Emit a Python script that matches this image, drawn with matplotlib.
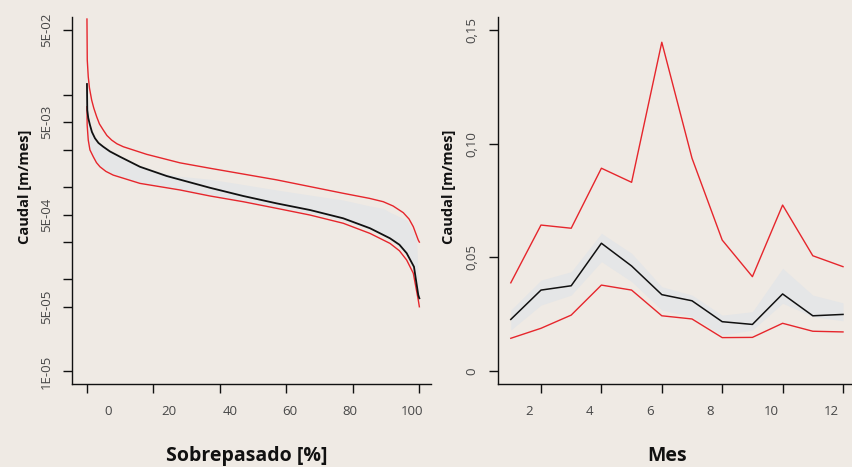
"""
Curva de duración de caudales (izq.) y caudal medio mensual (der.):
mediana simulada (negro), envolventes mín./máx. (rojo) y banda gris.
"""
import matplotlib
matplotlib.use("Agg")
import matplotlib.pyplot as plt
from matplotlib.ticker import NullLocator

BG = "#EFEAE4"
RED = "#E6262C"
BAND = "#E5E6E7"
TICK_TXT = "#474747"

plt.rcParams["font.family"] = ["Open Sans", "DejaVu Sans"]

# --- curva de duración (porcentaje sobrepasado vs caudal) ---
up_x = [0, 0.09, 0.39, 0.75, 1.41, 2.05, 2.92, 3.76, 4.90, 6.0, 7.43, 9.0, 10.92, 17.96, 27.98,
        37.0, 57.07, 77.1, 85.0, 89.14, 92.1, 95.16, 96.9, 98.17, 99.67, 100]
up_q = [0.0658, 0.0237, 0.0156, 0.0118, 0.00873, 0.00714, 0.00575, 0.0048, 0.00413, 0.0036,
        0.00321, 0.00293, 0.00272, 0.00225, 0.00182, 0.00159, 0.00119, 0.000851, 0.000750,
        0.000690, 0.000620, 0.000525, 0.000448, 0.000370, 0.000265, 0.000252]

med_x = [0, 0.09, 0.39, 0.90, 1.5, 2.41, 3.46, 4.90, 6.9, 9.93, 15.94, 23.98, 37.0, 47.0, 57.07,
         67.09, 77.1, 85.14, 91.16, 94.0, 96.18, 98.38, 99.67, 100]
med_q = [0.0130, 0.00679, 0.00557, 0.00468, 0.00393, 0.00336, 0.00299, 0.00272, 0.00242,
         0.00212, 0.00165, 0.00131, 0.000977, 0.000796, 0.000662, 0.000561, 0.000456,
         0.000356, 0.000277, 0.000236, 0.000191, 0.000136, 0.0000673, 0.000062]

lo_x = [0, 0.06, 0.39, 0.9, 1.90, 2.86, 3.91, 5.7, 7.91, 15.94, 27.98, 37.0, 47.0, 57.07, 67.09,
        77.1, 85.14, 91.16, 94.0, 96.18, 98.17, 99.67, 100]
lo_q = [0.00738, 0.00468, 0.00321, 0.00251, 0.00212, 0.00183, 0.00165, 0.00147, 0.00134,
        0.00109, 0.000925, 0.000796, 0.000690, 0.000585, 0.000495, 0.000403, 0.000313,
        0.000244, 0.000203, 0.000161, 0.000116, 0.0000594, 0.0000502]

band_x = [0, 0.39, 0.90, 1.90, 2.41, 3.91, 4.90, 7.91, 9.93, 15.94, 23.98, 27.98, 37.0, 47.0,
          57.07, 67.09, 77.1, 85.14, 89.14, 91.16, 96.18, 98.38, 99.19, 99.67, 100]
band_top = [0.0125, 0.0070, 0.0046, 0.0037, 0.0033, 0.0029, 0.0027, 0.0023, 0.0021, 0.00166,
            0.00138, 0.00130, 0.00121, 0.00106, 0.000925, 0.000815, 0.000720, 0.000620,
            0.000585, 0.000530, 0.000437, 0.000320, 0.000265, 0.0000978, 0.000070]
band_bot = [0.0070, 0.0033, 0.0026, 0.00218, 0.0020, 0.0017, 0.00160, 0.00138, 0.00128,
            0.00112, 0.00098, 0.00094, 0.00081, 0.00070, 0.00060, 0.00052, 0.00043, 0.000345,
            0.000305, 0.000272, 0.000188, 0.000135, 0.000100, 0.000068, 0.000065]

dur_ticks = [5e-2, 1e-2, 5e-3, 2.5e-3, 1e-3, 5e-4, 2.5e-4, 1e-4, 5e-5, 1e-5]
dur_ticklabels = ["5E-02", "", "5E-03", "", "", "5E-04", "", "", "5E-05", "1E-05"]
dur_xticks = [0, 20, 40, 60, 80, 100]
dur_xlabel_pos = [6.3, 24.7, 43.1, 61.1, 79.2, 97.9]

# --- caudal mensual ---
meses = list(range(1, 13))
mes_max = [0.0388, 0.0642, 0.0628, 0.0892, 0.0830, 0.1446, 0.0936, 0.0576, 0.0415, 0.0730, 0.0507, 0.0459]
mes_med = [0.0227, 0.0356, 0.0375, 0.0562, 0.0462, 0.0336, 0.0309, 0.0217, 0.0205, 0.0339, 0.0243, 0.0249]
mes_min = [0.0144, 0.0188, 0.0246, 0.0378, 0.0356, 0.0243, 0.0229, 0.0147, 0.0148, 0.0210, 0.0175, 0.0172]
mes_band_top = [0.0268, 0.0400, 0.0437, 0.0606, 0.0518, 0.0371, 0.0334, 0.0246, 0.0261, 0.0452, 0.0334, 0.0300]
mes_band_bot = [0.0180, 0.0290, 0.0334, 0.0481, 0.0393, 0.0268, 0.0239, 0.0158, 0.0180, 0.0298, 0.0239, 0.0221]

mes_yticks = [0, 0.05, 0.10, 0.15]
mes_yticklabels = ["0", "0,05", "0,10", "0,15"]
mes_xticks = [2, 4, 6, 8, 10, 12]
mes_xlabel_pos = [1.60, 3.62, 5.60, 7.61, 9.63, 11.62]

W, H = 852, 467
fig = plt.figure(figsize=(W / 100, H / 100), dpi=100, facecolor=BG)

def px_axes(x0, x1, y0, y1):
    return fig.add_axes([x0 / W, 1 - y1 / H, (x1 - x0) / W, (y1 - y0) / H])

ax1 = px_axes(72, 431, 17, 384)
ax2 = px_axes(497.5, 856.3, 17, 384)


def style(ax, xticks, xlabels, xlabel_pos):
    ax.set_facecolor(BG)
    for s in ("top", "right"):
        ax.spines[s].set_visible(False)
    for s in ("left", "bottom"):
        ax.spines[s].set_linewidth(1.0)
        ax.spines[s].set_color("#111111")
    ax.tick_params(direction="out", length=6.5, width=1.0, color="#111111",
                   labelsize=9.5, labelcolor=TICK_TXT)
    ax.tick_params(axis="y", labelrotation=90, pad=7)
    for t in ax.get_yticklabels():
        t.set_va("center")
    ax.set_xticks(xticks)
    ax.set_xticklabels([])
    for lbl, pos in zip(xlabels, xlabel_pos):
        ax.annotate(lbl, xy=(pos, 0), xycoords=("data", "axes fraction"),
                    xytext=(0, -21), textcoords="offset pixels",
                    ha="center", va="top", fontsize=9.5, color=TICK_TXT,
                    annotation_clip=False)


# izquierda: curva de duración
ax1.fill_between(band_x, band_bot, band_top, color=BAND, lw=0)
ax1.plot(up_x, up_q, color=RED, lw=1.0)
ax1.plot(lo_x, lo_q, color=RED, lw=1.0)
ax1.plot(med_x, med_q, color="#111111", lw=1.3)
ax1.set_yscale("log")
ax1.set_xlim(-4.5, 103.5)
ax1.set_ylim(7.31e-6, 0.0692)
ax1.set_yticks(dur_ticks)
ax1.set_yticklabels(dur_ticklabels)
ax1.yaxis.set_minor_locator(NullLocator())
style(ax1, dur_xticks, [str(v) for v in dur_xticks], dur_xlabel_pos)

# derecha: caudal mensual
ax2.fill_between(meses, mes_band_bot, mes_band_top, color=BAND, lw=0)
ax2.plot(meses, mes_max, color=RED, lw=1.0)
ax2.plot(meses, mes_min, color=RED, lw=1.0)
ax2.plot(meses, mes_med, color="#111111", lw=1.1)
ax2.set_xlim(0.56, 12.44)
ax2.set_ylim(-0.0057, 0.1557)
ax2.set_yticks(mes_yticks)
ax2.set_yticklabels(mes_yticklabels)
style(ax2, mes_xticks, [str(v) for v in mes_xticks], mes_xlabel_pos)

ylab = dict(rotation=90, ha="center", va="center", fontsize=10.5, fontweight="bold", color="#111111")
fig.text(25 / W, 1 - 187 / H, "Caudal [m/mes]", **ylab)
fig.text(449 / W, 1 - 187 / H, "Caudal [m/mes]", **ylab)

xlab = dict(ha="center", va="center", fontsize=14, fontweight="bold", color="#111111")
fig.text(247 / W, 1 - 456 / H, "Sobrepasado [%]", **xlab)
fig.text(667 / W, 1 - 456 / H, "Mes", **xlab)

fig.savefig("out.png", dpi=100, facecolor=BG)
